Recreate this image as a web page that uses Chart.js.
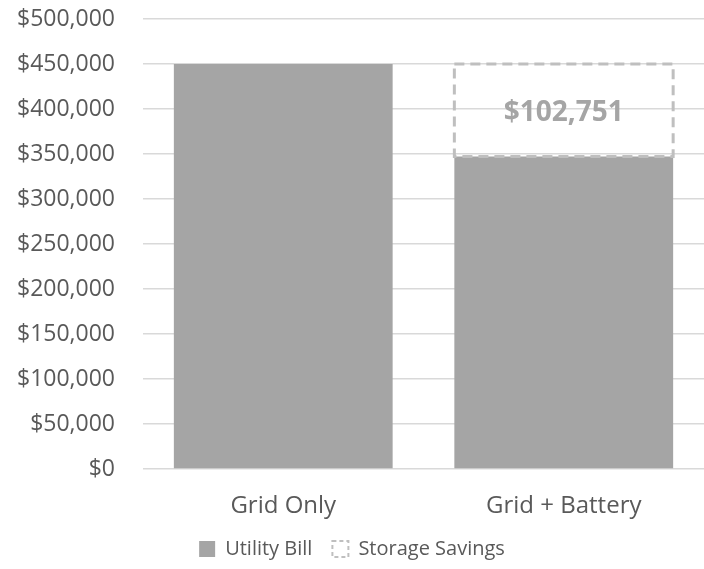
<!DOCTYPE html>
<html>
<head>
<meta charset="utf-8">
<script src="https://cdn.jsdelivr.net/npm/chart.js@4"></script>
<style>
  body { margin: 0; background: #fff; }
  #wrap { width: 704px; height: 569px; }
</style>
</head>
<body>
<div id="wrap"><canvas id="billChart" width="704" height="569"></canvas></div>
<script>
// values
var categories = ['Grid Only', 'Grid + Battery'];
var utilityBill = [450000, 347249];
var storageSavings = [null, 102751];
var seriesNames = ['Utility Bill', 'Storage Savings'];

var textColor = '#595959';
var gridColor = '#d9d9d9';
var barGray = '#a5a5a5';
var dashGray = '#bfbfbf';

function money(v) {
    return '$' + Number(v).toLocaleString('en-US');
}

// dashed outline + value label for the savings part of the stack
var savingsBox = {
    id: 'savingsBox',
    afterDatasetsDraw: function (chart) {
        var meta = chart.getDatasetMeta(1);
        var ctx = chart.ctx;
        meta.data.forEach(function (bar, i) {
            var v = storageSavings[i];
            if (v === null || v === undefined) return;
            var p = bar.getProps(['x', 'y', 'base', 'width'], true);
            var left = p.x - p.width / 2;
            ctx.save();
            ctx.strokeStyle = dashGray;
            ctx.lineWidth = 3;
            ctx.setLineDash([10, 6]);
            ctx.strokeRect(left, p.y, p.width, p.base - p.y);
            ctx.setLineDash([]);
            ctx.fillStyle = barGray;
            ctx.font = 'bold 28px "Open Sans", sans-serif';
            ctx.textAlign = 'center';
            ctx.textBaseline = 'middle';
            ctx.fillText(money(v), p.x, (p.y + p.base) / 2 + 3);
            ctx.restore();
        });
    }
};

var chartData = {
    labels: categories,
    datasets: [{
        label: seriesNames[0],
        data: utilityBill,
        backgroundColor: barGray,
        borderWidth: 0
    }, {
        label: seriesNames[1],
        data: storageSavings,
        backgroundColor: 'rgba(255,255,255,0)',
        borderWidth: 0
    }]
};

var chartConfig = {
    type: 'bar',
    data: chartData,
    plugins: [savingsBox],
    options: {
        responsive: false,
        animation: false,
        categoryPercentage: 0.78,
        barPercentage: 1,
        layout: { padding: { top: 0, right: 0, bottom: 0, left: 0 } },
        plugins: {
            tooltip: { enabled: false },
            legend: {
                position: 'bottom',
                labels: {
                    color: textColor,
                    font: { family: '"Open Sans", sans-serif', size: 20 },
                    boxWidth: 16,
                    boxHeight: 16,
                    padding: 20,
                    generateLabels: function (chart) {
                        return [{
                            text: seriesNames[0],
                            fillStyle: barGray,
                            strokeStyle: barGray,
                            lineWidth: 0,
                            fontColor: textColor,
                            datasetIndex: 0
                        }, {
                            text: seriesNames[1],
                            fillStyle: '#ffffff',
                            strokeStyle: dashGray,
                            lineWidth: 2,
                            lineDash: [4, 3],
                            fontColor: textColor,
                            datasetIndex: 1
                        }];
                    }
                }
            }
        },
        scales: {
            x: {
                stacked: true,
                grid: { display: false },
                border: { display: false },
                afterFit: function (scale) { scale.height = 50; },
                ticks: {
                    color: textColor,
                    font: { family: '"Open Sans", sans-serif', size: 24 },
                    padding: 15
                }
            },
            y: {
                stacked: true,
                min: 0,
                max: 500000,
                grid: { color: gridColor, lineWidth: 1.5, tickLength: 0 },
                border: { display: false },
                afterFit: function (scale) {
                    scale.width = 143;
                    scale.paddingTop = 19;
                },
                ticks: {
                    stepSize: 50000,
                    color: textColor,
                    padding: 28,
                    font: { family: '"Open Sans", sans-serif', size: 23 },
                    callback: function (v) { return money(v); }
                }
            }
        }
    }
};

var billChart = new Chart(document.getElementById('billChart'), chartConfig);
</script>
</body>
</html>
